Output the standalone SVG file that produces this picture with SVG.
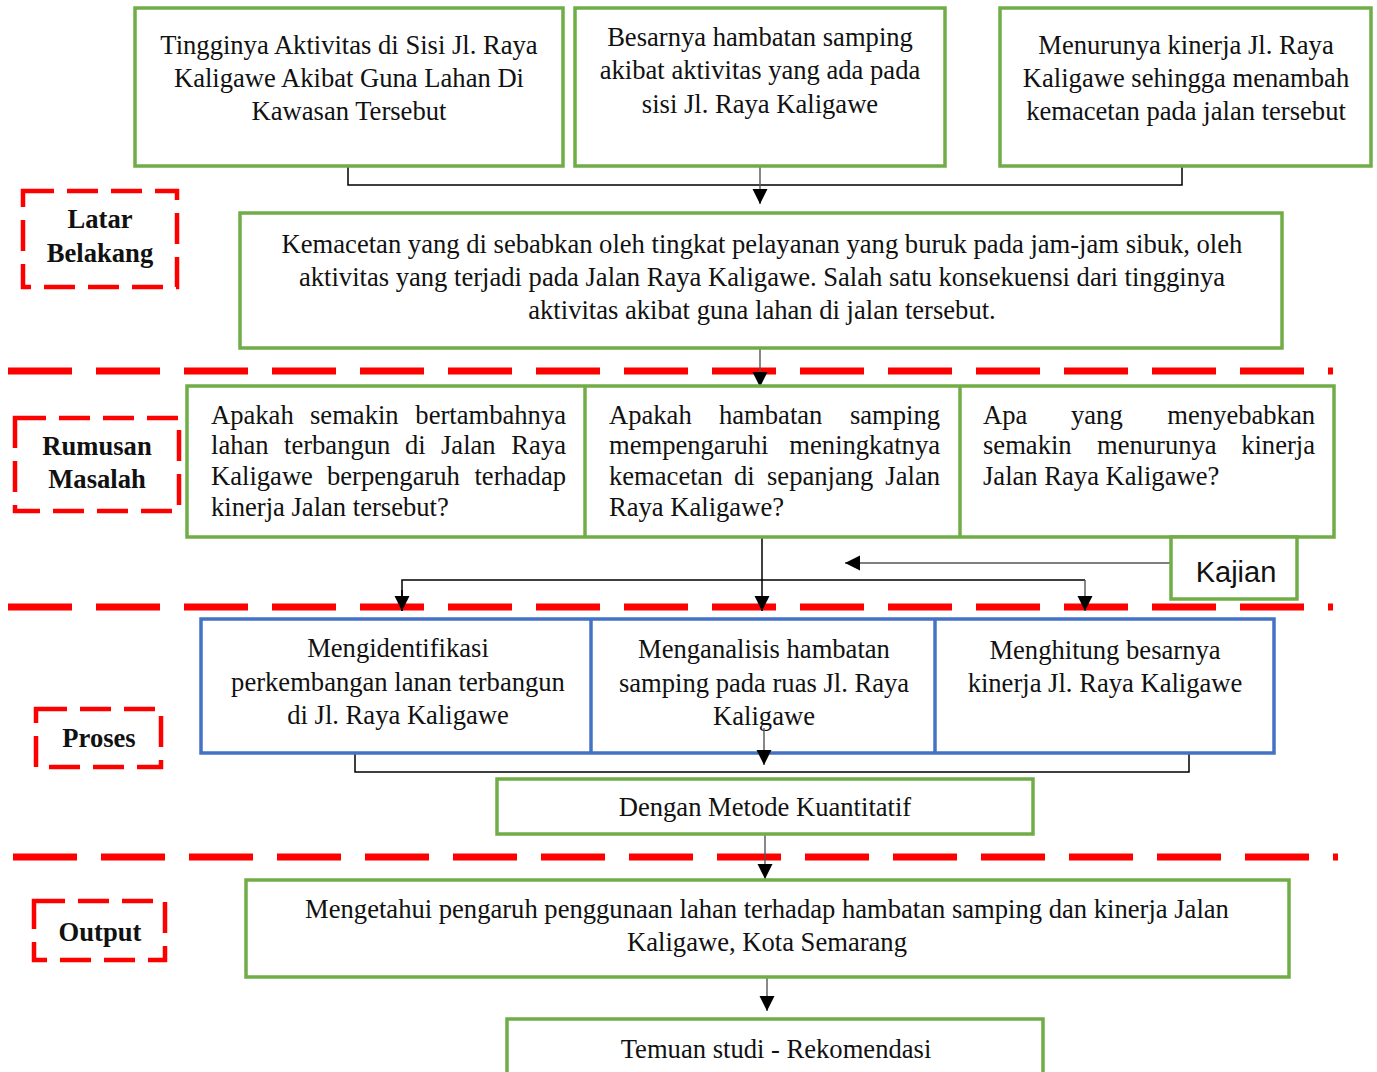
<svg xmlns="http://www.w3.org/2000/svg" width="1377" height="1072" viewBox="0 0 1377 1072">
<style>
.g{fill:#fff;stroke:#70AD47;stroke-width:3.5}
.b{fill:#fff;stroke:#4472C4;stroke-width:3.5}
.lbl{fill:none;stroke:#FF0000;stroke-width:4.5;stroke-dasharray:31 13}
.sep{stroke:#FF0000;stroke-width:7;stroke-dasharray:64 24}
.t{font-family:"Liberation Serif","Times New Roman",serif;font-size:26.6px;fill:#111}
.c{text-anchor:middle}
.e{text-anchor:end}
.bold{font-weight:bold;font-size:26.6px}
.k{font-family:"Liberation Sans Narrow","Liberation Sans",Lato,sans-serif;font-size:29px;fill:#111;text-anchor:middle}
.ln{fill:none;stroke:#000;stroke-width:1.5}
.ar{fill:none;stroke:#555;stroke-width:1.4}
</style>
<defs>
<marker id="ah" markerUnits="userSpaceOnUse" markerWidth="16" markerHeight="18" refX="15" refY="7.5" orient="auto">
<path d="M0,0 L15,7.5 L0,15 Z" fill="#000"/>
</marker>
</defs>

<g id="separators">
<line class="sep" x1="8" y1="371" x2="1333" y2="371"/>
<line class="sep" x1="8" y1="607" x2="1333" y2="607"/>
<line class="sep" x1="13" y1="857" x2="1338" y2="857"/>
</g>

<g id="connectors">
<polyline class="ln" points="348,166 348,185 1182,185 1182,166"/>
<line class="ar" x1="760" y1="166" x2="760" y2="204" marker-end="url(#ah)"/>
<line class="ar" x1="760" y1="349" x2="760" y2="387" marker-end="url(#ah)"/>
<line class="ln" x1="762" y1="537" x2="762" y2="611" marker-end="url(#ah)"/>
<polyline class="ln" points="402,611 402,580 1085,580"/>
<line class="ln" x1="402" y1="590" x2="402" y2="611" marker-end="url(#ah)"/>
<line class="ar" x1="1085" y1="580" x2="1085" y2="611" marker-end="url(#ah)"/>
<line class="ar" x1="1171" y1="563" x2="845" y2="563" marker-end="url(#ah)"/>
<polyline class="ln" points="355,753 355,772 1189,772 1189,753"/>
<line class="ar" x1="765" y1="833" x2="765" y2="879" marker-end="url(#ah)"/>
<line class="ar" x1="767" y1="977" x2="767" y2="1011" marker-end="url(#ah)"/>
</g>

<g id="label-latar">
<rect class="lbl" x="23" y="191" width="154" height="96"/>
<text class="t c bold" x="100" y="228">Latar</text>
<text class="t c bold" x="100" y="262">Belakang</text>
</g>
<g id="label-rumusan">
<rect class="lbl" x="15" y="418" width="164" height="93"/>
<text class="t c bold" x="97" y="455">Rumusan</text>
<text class="t c bold" x="97" y="488">Masalah</text>
</g>
<g id="label-proses">
<rect class="lbl" x="36" y="709" width="125" height="58"/>
<text class="t c bold" x="99" y="747">Proses</text>
</g>
<g id="label-output">
<rect class="lbl" x="34" y="901" width="131" height="59"/>
<text class="t c bold" x="100" y="941">Output</text>
</g>

<g id="node-tingginya">
<rect class="g" x="135" y="8" width="428" height="158"/>
<text class="t c" x="349" y="54">Tingginya Aktivitas di Sisi Jl. Raya</text>
<text class="t c" x="349" y="87">Kaligawe Akibat Guna Lahan Di</text>
<text class="t c" x="349" y="120">Kawasan Tersebut</text>
</g>
<g id="node-besarnya">
<rect class="g" x="575" y="8" width="370" height="158"/>
<text class="t c" x="760" y="46">Besarnya hambatan samping</text>
<text class="t c" x="760" y="79">akibat aktivitas yang ada pada</text>
<text class="t c" x="760" y="113">sisi Jl. Raya Kaligawe</text>
</g>
<g id="node-menurunya">
<rect class="g" x="1000" y="8" width="371" height="158"/>
<text class="t c" x="1186" y="54">Menurunya kinerja Jl. Raya</text>
<text class="t c" x="1186" y="87">Kaligawe sehingga menambah</text>
<text class="t c" x="1186" y="120">kemacetan pada jalan tersebut</text>
</g>
<g id="node-kemacetan">
<rect class="g" x="240" y="213" width="1042" height="135"/>
<text class="t c" x="762" y="253">Kemacetan yang di sebabkan oleh tingkat pelayanan yang buruk pada jam-jam sibuk, oleh</text>
<text class="t c" x="762" y="286">aktivitas yang terjadi pada Jalan Raya Kaligawe. Salah satu konsekuensi dari tingginya</text>
<text class="t c" x="762" y="319">aktivitas akibat guna lahan di jalan tersebut.</text>
</g>

<g id="node-rumusan">
<rect class="g" x="187" y="386" width="1147" height="151"/>
<line class="g" x1="585" y1="386" x2="585" y2="537"/>
<line class="g" x1="960" y1="386" x2="960" y2="537"/>
<g id="q1">
<text class="t" x="211" y="424">Apakah</text>
<text class="t" x="310" y="424">semakin</text>
<text class="t e" x="566" y="424">bertambahnya</text>
<text class="t" x="211" y="454">lahan</text>
<text class="t" x="284" y="454">terbangun</text>
<text class="t" x="405" y="454">di</text>
<text class="t" x="441" y="454">Jalan</text>
<text class="t e" x="566" y="454">Raya</text>
<text class="t" x="211" y="485">Kaligawe</text>
<text class="t" x="327" y="485">berpengaruh</text>
<text class="t e" x="566" y="485">terhadap</text>
<text class="t" x="211" y="516">kinerja Jalan tersebut?</text>
</g>
<g id="q2">
<text class="t" x="609" y="424">Apakah</text>
<text class="t" x="719" y="424">hambatan</text>
<text class="t e" x="940" y="424">samping</text>
<text class="t" x="609" y="454">mempengaruhi</text>
<text class="t e" x="940" y="454">meningkatnya</text>
<text class="t" x="609" y="485">kemacetan</text>
<text class="t" x="734" y="485">di</text>
<text class="t" x="767" y="485">sepanjang</text>
<text class="t e" x="940" y="485">Jalan</text>
<text class="t" x="609" y="516">Raya Kaligawe?</text>
</g>
<g id="q3">
<text class="t" x="983" y="424">Apa</text>
<text class="t" x="1071" y="424">yang</text>
<text class="t e" x="1315" y="424">menyebabkan</text>
<text class="t" x="983" y="454">semakin</text>
<text class="t" x="1097" y="454">menurunya</text>
<text class="t e" x="1315" y="454">kinerja</text>
<text class="t" x="983" y="485">Jalan Raya Kaligawe?</text>
</g>
</g>

<g id="node-kajian">
<rect class="g" x="1171" y="537" width="126" height="62"/>
<text class="k" x="1236" y="582">Kajian</text>
</g>

<g id="node-proses">
<rect class="b" x="201" y="619" width="1073" height="134"/>
<line class="b" x1="591" y1="619" x2="591" y2="753"/>
<line class="b" x1="935" y1="619" x2="935" y2="753"/>
<text class="t c" x="398" y="657">Mengidentifikasi</text>
<text class="t c" x="398" y="691">perkembangan lanan terbangun</text>
<text class="t c" x="398" y="724">di Jl. Raya Kaligawe</text>
<text class="t c" x="764" y="658">Menganalisis hambatan</text>
<text class="t c" x="764" y="692">samping pada ruas Jl. Raya</text>
<text class="t c" x="764" y="725">Kaligawe</text>
<text class="t c" x="1105" y="659">Menghitung besarnya</text>
<text class="t c" x="1105" y="692">kinerja Jl. Raya Kaligawe</text>
</g>
<line class="ar" x1="764" y1="728" x2="764" y2="765" marker-end="url(#ah)"/>

<g id="node-metode">
<rect class="g" x="497" y="779" width="536" height="55"/>
<text class="t c" x="765" y="816">Dengan Metode Kuantitatif</text>
</g>

<g id="node-output">
<rect class="g" x="246" y="880" width="1043" height="97"/>
<text class="t c" x="767" y="918">Mengetahui pengaruh penggunaan lahan terhadap hambatan samping dan kinerja Jalan</text>
<text class="t c" x="767" y="951">Kaligawe, Kota Semarang</text>
</g>

<g id="node-temuan">
<rect class="g" x="507" y="1019" width="536" height="70"/>
<text class="t c" x="776" y="1058">Temuan studi - Rekomendasi</text>
</g>
</svg>
